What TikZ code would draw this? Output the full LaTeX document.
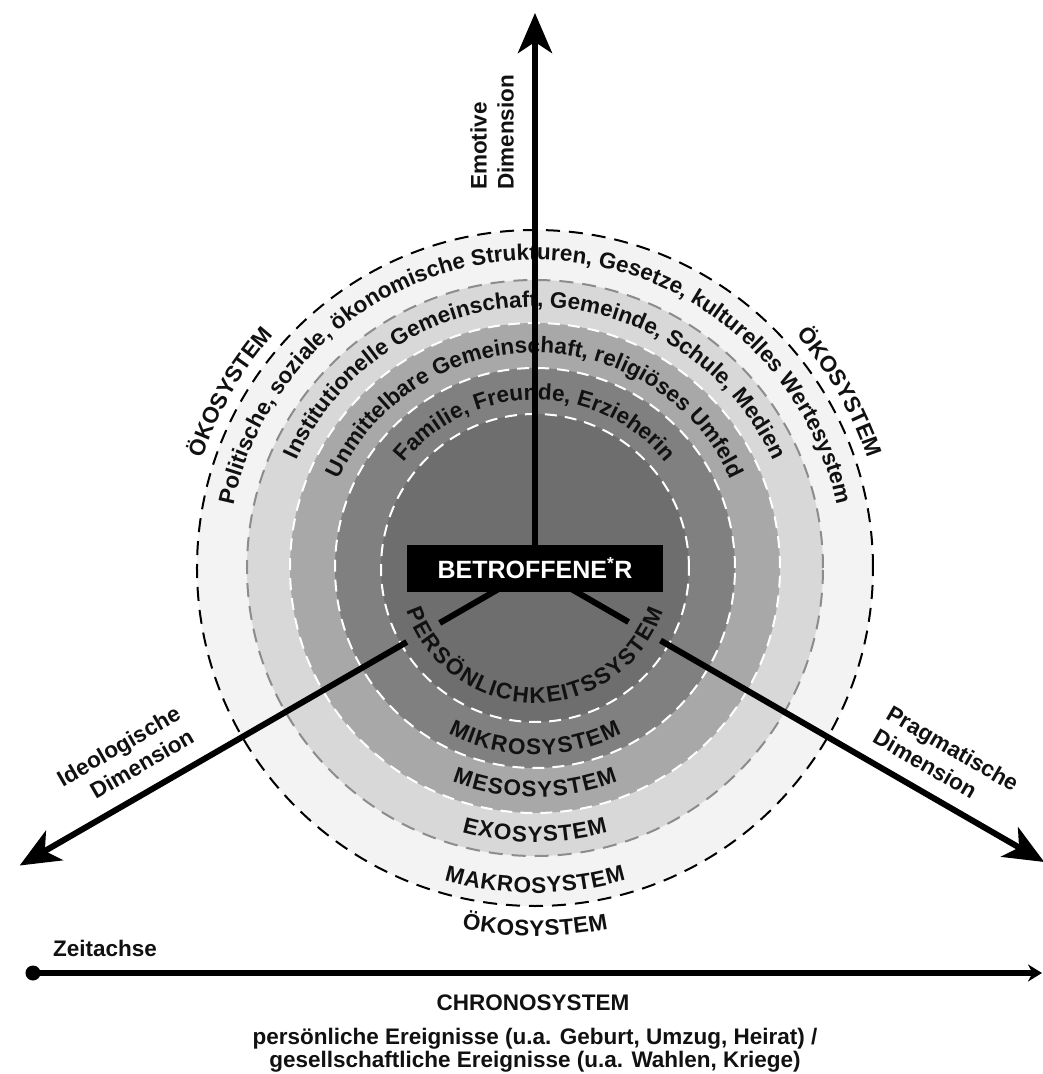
\documentclass[tikz,border=0pt]{standalone}
\usepackage{fontspec}
\setmainfont{Liberation Sans}
\usetikzlibrary{arrows.meta,decorations.text}

\definecolor{ringA}{HTML}{F3F3F3}
\definecolor{ringB}{HTML}{D8D8D8}
\definecolor{ringC}{HTML}{A8A8A8}
\definecolor{ringD}{HTML}{808080}
\definecolor{ringE}{HTML}{6E6E6E}
\definecolor{rimgray}{HTML}{8C8C8C}
\definecolor{ink}{HTML}{111111}

\newcommand{\sysfont}{\fontsize{22.5}{27}\selectfont\bfseries}

% text on a clockwise arc (letters upright, tops outward)
% #1 centre angle, #2 radius, #3 half span (deg), #4 raise, #5 text
\newcommand{\arccw}[5]{%
  \path[decorate,decoration={text along path,text align=center,
      text color=ink,raise=#4,text={|\sysfont|#5}}]
    (#1+#3:#2) arc[start angle=#1+#3,end angle=#1-#3,radius=#2];}
% text on a counter-clockwise arc (tops toward the centre)
\newcommand{\arcccw}[5]{%
  \path[decorate,decoration={text along path,text align=center,
      text color=ink,raise=#4,text={|\sysfont|#5}}]
    (#1-#3:#2) arc[start angle=#1-#3,end angle=#1+#3,radius=#2];}

\begin{document}
\begin{tikzpicture}[x=1pt,y=1pt,
  outerrim/.style={draw=black,line width=2pt,dash pattern=on 14pt off 9pt},
  grayrim/.style={draw=rimgray,line width=2pt,dash pattern=on 14pt off 9pt},
  whiterim/.style={draw=white,line width=2pt,dash pattern=on 12pt off 8pt},
  axisbar/.style={line width=6pt,draw=black},
  axisarrow/.style={axisbar,-{Stealth[length=40pt,width=34pt,inset=11pt]}},
  dimlabel/.style={font=\sysfont,text=ink,inner sep=0pt},
  plainlabel/.style={font=\sysfont,text=ink,inner sep=0pt,anchor=base}]

\useasboundingbox (-535,-506) rectangle (507,568);

\coordinate (c) at (0,0);

% nested system discs
\fill[ringA] (c) circle[radius=338pt];
\fill[ringB] (c) circle[radius=288pt];
\fill[ringC] (c) circle[radius=245pt];
\fill[ringD] (c) circle[radius=200pt];
\fill[ringE] (c) circle[radius=154pt];
\draw[outerrim] (c) circle[radius=338pt];
\draw[grayrim] (c) circle[radius=288pt];
\draw[whiterim] (c) circle[radius=245pt];
\draw[whiterim] (c) circle[radius=200pt];
\draw[whiterim] (c) circle[radius=154pt];

% upper ring texts
\arccw{90}{308pt}{95}{0pt}{Politische, soziale, ökonomische Strukturen, Gesetze, kulturelles Wertesystem}
\arccw{90}{261pt}{85}{0pt}{Institutionelle Gemeinschaft, Gemeinde, Schule, Medien}
\arccw{90}{215pt}{85}{0pt}{Unmittelbare Gemeinschaft, religiöses Umfeld}
\arccw{90}{168pt}{80}{0pt}{Familie, Freunde, Erzieherin}
\arccw{150}{350pt}{40}{0pt}{ÖKOSYSTEM}
\arccw{30}{350pt}{40}{0pt}{ÖKOSYSTEM}

% lower ring names
\arcccw{270}{122pt}{80}{-13pt}{PERSÖNLICHKEITSSYSTEM}
\arcccw{270}{172pt}{70}{-15pt}{MIKROSYSTEM}
\arcccw{270}{213pt}{60}{-16pt}{MESOSYSTEM}
\arcccw{270}{258pt}{50}{-16pt}{EXOSYSTEM}
\arcccw{270}{312pt}{45}{-13pt}{MAKROSYSTEM}
\arcccw{270}{358pt}{40}{-10pt}{ÖKOSYSTEM}

% dimension axes
\coordinate (emoTip) at (90:555pt);
\coordinate (ideoIn) at (210:110pt);
\coordinate (ideoOut) at (210:148pt);
\coordinate (ideoTip) at (210:595pt);
\coordinate (pragIn) at (330:108pt);
\coordinate (pragOut) at (330:145pt);
\coordinate (pragTip) at (330:588pt);
\draw[axisarrow] (c) -- (emoTip);
\draw[axisbar] (c) -- (ideoIn);
\draw[axisarrow] (ideoOut) -- (ideoTip);
\draw[axisbar] (c) -- (pragIn);
\draw[axisarrow] (pragOut) -- (pragTip);

% person in the centre
\node[fill=black,text=white,minimum width=256pt,minimum height=47pt,inner sep=0pt,
      font=\fontsize{25}{30}\selectfont\bfseries] (person) at (c) {BETROFFENE\textsuperscript{*}R};

% axis labels
\node[dimlabel,rotate=90,anchor=west,align=left] (emotive) at (-43,378) {Emotive\\Dimension};
\node[dimlabel,rotate=30,anchor=east,align=right] (ideo) at (-350,-155) {Ideologische\\Dimension};
\node[dimlabel,rotate=-30,anchor=west,align=left] (prag) at (347,-155) {Pragmatische\\Dimension};

% time axis
\coordinate (tStart) at (-502,-405);
\coordinate (tEnd) at (507,-405);
\fill[black] (tStart) circle[radius=7.5pt];
\draw[axisbar,-{Stealth[length=14pt,width=17pt]}] (tStart) -- (tEnd);
\node[plainlabel] (zeit) at (-430,-388) {Zeitachse};

% chronosystem caption
\node[plainlabel] (chrono) at (-2,-442) {CHRONOSYSTEM};
\node[plainlabel] (chronoA) at (0,-476) {persönliche Ereignisse (u.a. Geburt, Umzug, Heirat) /};
\node[plainlabel] (chronoB) at (0,-499) {gesellschaftliche Ereignisse (u.a. Wahlen, Kriege)};
\end{tikzpicture}
\end{document}
